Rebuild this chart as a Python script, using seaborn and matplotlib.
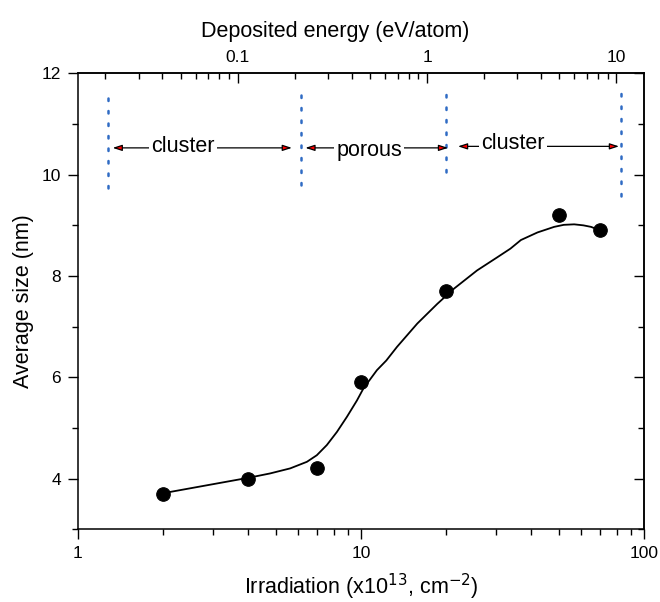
import matplotlib
matplotlib.use("Agg")
import matplotlib.pyplot as plt
from matplotlib.ticker import MultipleLocator, FixedLocator, FixedFormatter, NullFormatter
import numpy as np
import seaborn as sns

# measured points
fluence = [2, 4, 7, 10, 20, 50, 70]
avg_size = [3.7, 4.0, 4.2, 5.9, 7.7, 9.2, 8.9]

# guide curve
curve_x = [2, 4.05, 4.77, 5.62, 6.44, 6.98, 7.57, 8.22, 8.92, 9.67, 10.2, 11.38, 12.28,
           13.4, 15.8, 18.6, 21.3, 25.7, 30.3, 33.7, 36.7, 42, 48.1, 52, 56.6, 61, 64.9, 70]
curve_y = [3.71, 4.02, 4.10, 4.20, 4.33, 4.46, 4.66, 4.92, 5.22, 5.54, 5.78, 6.14, 6.33,
           6.60, 7.06, 7.45, 7.75, 8.11, 8.37, 8.54, 8.71, 8.86, 8.97, 9.01, 9.02, 9.0, 8.97, 8.9]

# regime borders (bottom axis units) and labels
borders = [1.274, 6.14, 20.0, 82.9]
border_top = [11.55, 11.63, 11.66, 11.66]
border_bot = [9.73, 9.79, 10.06, 9.58]
arrow_x0 = [1.327, 6.36, 22.0]
arrow_x1 = [5.70, 20.3, 81.5]
arrow_y = [10.53, 10.53, 10.56]
regime_names = ["cluster", "porous", "cluster"]
regime_x = [2.35, 10.7, 34.5]
regime_y = [10.56, 10.48, 10.61]

fluence_ticks = [1, 10, 100]
fluence_labels = ["1", "10", "100"]
fluence_minor = [2, 3, 4, 5, 6, 7, 8, 9, 20, 30, 40, 50, 60, 70, 80, 90]
energy_ticks = [0.1, 1, 10]
energy_labels = ["0.1", "1", "10"]
energy_minor = [0.02, 0.03, 0.04, 0.05, 0.06, 0.07, 0.08, 0.09,
                0.2, 0.3, 0.4, 0.5, 0.6, 0.7, 0.8, 0.9, 2, 3, 4, 5, 6, 7, 8, 9]

energy_at_1 = 0.0143
energy_slope = 1.4954


def fluence_to_energy(x):
    return energy_at_1 * np.power(np.asarray(x, dtype=float), energy_slope)


def energy_to_fluence(e):
    return np.power(np.asarray(e, dtype=float) / energy_at_1, 1.0 / energy_slope)


sns.set_style("ticks")
plt.rcParams["font.family"] = ["Liberation Sans", "DejaVu Sans"]
plt.rcParams.update({
    "axes.linewidth": 1.1, "axes.edgecolor": "black", "axes.labelcolor": "black",
    "text.color": "black", "xtick.color": "black", "ytick.color": "black",
    "xtick.major.size": 7, "xtick.minor.size": 4, "ytick.major.size": 7, "ytick.minor.size": 4,
    "xtick.major.width": 1.0, "xtick.minor.width": 1.0,
    "ytick.major.width": 1.0, "ytick.minor.width": 1.0,
    "xtick.labelsize": 12.5, "ytick.labelsize": 12.5,
    "xtick.direction": "out", "ytick.direction": "out",
})

fig = plt.figure(figsize=(6.6, 6.02), dpi=100)
ax = fig.add_axes([0.118, 0.121, 0.858, 0.757])

sns.lineplot(x=curve_x, y=curve_y, ax=ax, color="black", lw=1.3, sort=False, estimator=None)
sns.scatterplot(x=fluence, y=avg_size, ax=ax, color="black", s=95, edgecolor="black", zorder=5)

# dotted borders
for xb, yt, yb in zip(borders, border_top, border_bot):
    ax.plot([xb, xb], [yb, yt], color="#2f6bc4", lw=1.8, ls=(0, (1, 4)), dash_capstyle="round")

# arrows with regime names
for x0, x1, ya in zip(arrow_x0, arrow_x1, arrow_y):
    ax.annotate("", xy=(x1, ya), xytext=(x0, ya),
                arrowprops=dict(arrowstyle="<|-|>,head_length=0.55,head_width=0.18",
                                fc="red", ec="black", lw=0.9, shrinkA=0, shrinkB=0))
for name, xt, yt in zip(regime_names, regime_x, regime_y):
    ax.text(xt, yt, name, fontsize=15.5, ha="center", va="center",
            bbox=dict(facecolor="white", edgecolor="none", pad=1.5))

# main axes: bottom + left, outward ticks
ax.set_xscale("log")
ax.set_xlim(1, 100)
ax.set_ylim(3, 12)
ax.yaxis.set_major_locator(MultipleLocator(2))
ax.yaxis.set_minor_locator(MultipleLocator(1))
ax.xaxis.set_major_locator(FixedLocator(fluence_ticks))
ax.xaxis.set_major_formatter(FixedFormatter(fluence_labels))
ax.xaxis.set_minor_locator(FixedLocator(fluence_minor))
ax.xaxis.set_minor_formatter(NullFormatter())
ax.tick_params(which="both", pad=5, top=False, right=False)
ax.set_xlabel("Irradiation (x10$^{13}$, cm$^{-2}$)", fontsize=15.5, labelpad=8)
ax.set_ylabel("Average size (nm)", fontsize=15.5, labelpad=6)
fig.canvas.draw()

# right axis: inward ticks, no labels
secy = ax.secondary_yaxis("right")
secy.yaxis.set_major_locator(MultipleLocator(2))
secy.yaxis.set_minor_locator(MultipleLocator(1))
secy.tick_params(which="both", direction="in", labelright=False)

# top axis: deposited energy, inward ticks
secx = ax.secondary_xaxis("top", functions=(fluence_to_energy, energy_to_fluence))
secx.set_xticks(energy_ticks, energy_labels)
secx.xaxis.set_minor_locator(FixedLocator(energy_minor))
secx.xaxis.set_minor_formatter(NullFormatter())
secx.tick_params(which="both", direction="in", pad=6)
secx.set_xlabel("Deposited energy (eV/atom)", fontsize=15.5)
secx.xaxis.set_label_coords(0.454, 1.08, transform=ax.transAxes)

fig.canvas.draw()
fig.savefig("out.png", dpi=100)
